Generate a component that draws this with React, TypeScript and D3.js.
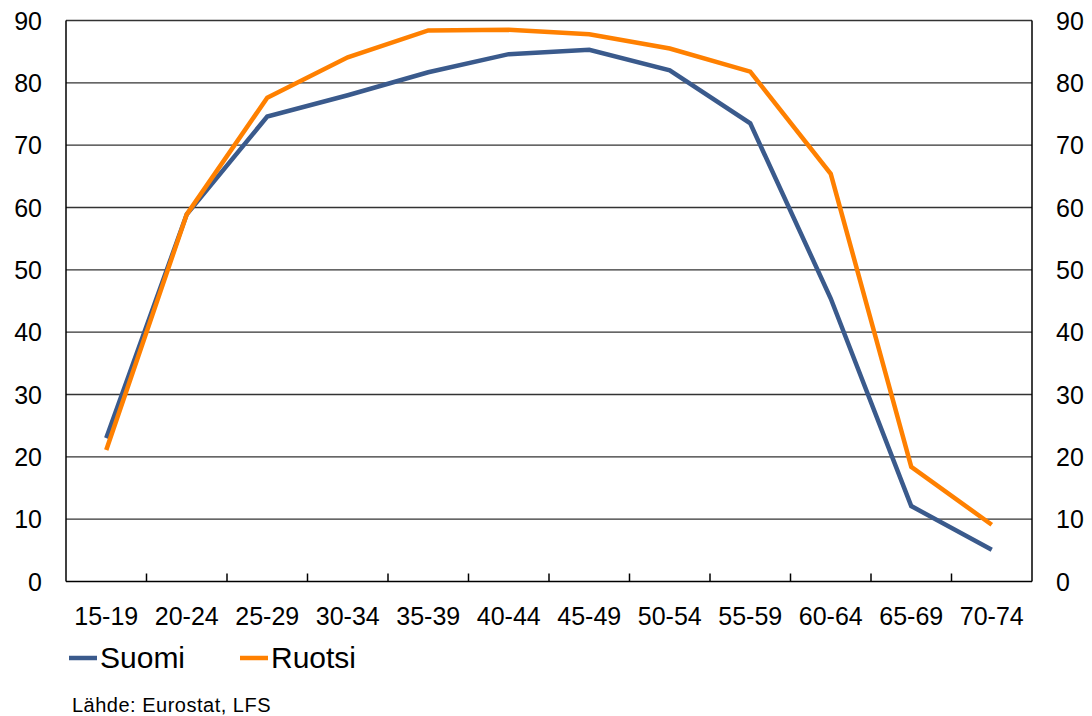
import React from "react";
import * as d3 from "d3";

const categories = ["15-19", "20-24", "25-29", "30-34", "35-39", "40-44", "45-49", "50-54", "55-59", "60-64", "65-69", "70-74"];
const suomi = [23.0, 58.9, 74.6, 78.0, 81.7, 84.6, 85.3, 82.0, 73.5, 45.4, 12.1, 5.1];
const ruotsi = [21.1, 58.9, 77.6, 84.1, 88.4, 88.5, 87.8, 85.5, 81.8, 65.4, 18.4, 9.1];
const yTicks = [0, 10, 20, 30, 40, 50, 60, 70, 80, 90];
const seriesNames = ["Suomi", "Ruotsi"];
const colors = ["#3A5A8C", "#FF8000"];
const sourceText = "Lähde: Eurostat, LFS";

export default function App() {
  const W = 1092, H = 716;
  const left = 66, right = 1032, top = 20.5, bottom = 581.5;
  const x = d3.scaleBand<string>().domain(categories).range([left, right]);
  const y = d3.scaleLinear().domain([0, 90]).range([bottom, top]);
  const line = d3.line<number>()
    .x((_, i) => (x(categories[i]) as number) + x.bandwidth() / 2)
    .y((d) => y(d));
  const font = "'Liberation Sans', Arial, sans-serif";
  const data = [suomi, ruotsi];
  return (
    <svg width={W} height={H} style={{ position: "absolute", left: 0, top: 0, background: "#fff" }} fontFamily={font}>
      {yTicks.map((t) => (
        <g key={t}>
          {t > 0 && <line x1={left} x2={right} y1={y(t)} y2={y(t)} stroke="#333" strokeWidth={1.3} />}
          <text x={42} y={y(t)} dy="0.36em" textAnchor="end" fontSize={25} fill="#000">{t}</text>
          <text x={1056} y={y(t)} dy="0.36em" textAnchor="start" fontSize={25} fill="#000">{t}</text>
        </g>
      ))}
      <line x1={left} x2={left} y1={top} y2={bottom} stroke="#000" strokeWidth={1.5} />
      <line x1={right} x2={right} y1={top} y2={bottom} stroke="#000" strokeWidth={1.5} />
      <line x1={left} x2={right} y1={bottom} y2={bottom} stroke="#000" strokeWidth={1.5} />
      {categories.slice(1).map((c) => (
        <line key={c} x1={x(c) as number} x2={x(c) as number} y1={bottom} y2={bottom - 8} stroke="#000" strokeWidth={1.5} />
      ))}
      {categories.map((c) => (
        <text key={c} x={(x(c) as number) + x.bandwidth() / 2} y={625} textAnchor="middle" fontSize={25} fill="#000">{c}</text>
      ))}
      {data.map((d, i) => (
        <path key={i} d={line(d) as string} fill="none" stroke={colors[i]} strokeWidth={4.5} strokeLinejoin="miter" />
      ))}
      {seriesNames.map((n, i) => {
        const lx = i === 0 ? 69 : 240;
        return (
          <g key={n}>
            <line x1={lx} x2={lx + 28} y1={658} y2={658} stroke={colors[i]} strokeWidth={4.5} />
            <text x={lx + 31} y={668} fontSize={30} fill="#000">{n}</text>
          </g>
        );
      })}
      <text x={72} y={712} fontSize={20} letterSpacing={0.5} fill="#000">{sourceText}</text>
    </svg>
  );
}
